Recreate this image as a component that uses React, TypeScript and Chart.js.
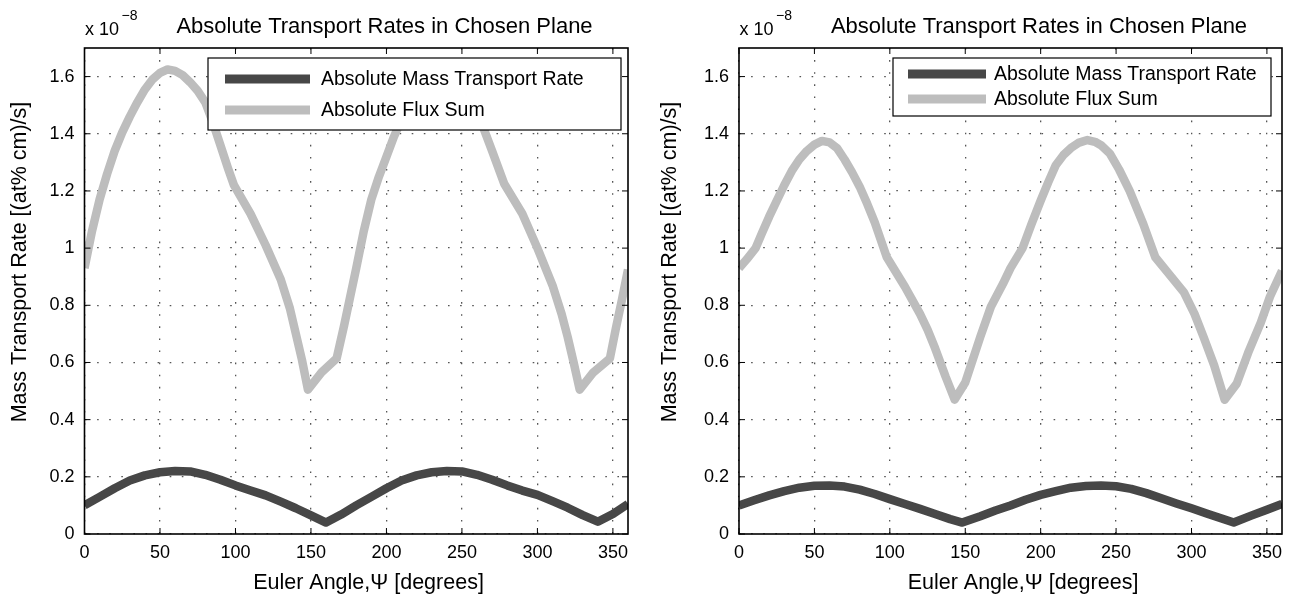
import React, { useEffect, useRef } from 'react';
import { Chart, registerables } from 'chart.js';

Chart.register(...registerables);

// ---------- data ----------
const xTicks = [0, 50, 100, 150, 200, 250, 300, 350];
const yTicks = [0, 0.2, 0.4, 0.6, 0.8, 1, 1.2, 1.4, 1.6];
const titleText = 'Absolute Transport Rates in Chosen Plane';
const xLabel = 'Euler Angle,\u03A8 [degrees]';
const yLabel = 'Mass Transport Rate [(at% cm)/s]';
const seriesNames = ['Absolute Mass Transport Rate', 'Absolute Flux Sum'];

// left panel
const leftMassAngles = [0, 10, 20, 30, 40, 50, 60, 70, 80, 90, 100, 110, 120, 130, 140, 150, 160, 170, 180,
  190, 200, 210, 220, 230, 240, 250, 260, 270, 280, 290, 300, 310, 320, 330, 340, 350, 360];
const leftMassValues = [0.10, 0.13, 0.16, 0.187, 0.205, 0.216, 0.22, 0.219, 0.207, 0.19, 0.17, 0.152, 0.135, 0.113, 0.09, 0.065, 0.04, 0.068, 0.10,
  0.13, 0.16, 0.187, 0.205, 0.216, 0.22, 0.219, 0.207, 0.19, 0.17, 0.152, 0.137, 0.115, 0.092, 0.066, 0.043, 0.07, 0.105];

const leftFluxAngles = [0, 5, 10, 15, 20, 25, 30, 35, 40, 45, 50, 55, 60, 65, 70, 75, 80, 85, 90, 95, 99,
  110, 120, 130, 136, 140, 144, 148, 157, 167, 172, 176, 180,
  185, 190, 195, 200, 205, 210, 220, 230, 235, 240, 250, 260, 265, 270, 278,
  290, 300, 310, 316, 320, 324, 328, 337, 348, 352, 356, 360];
const leftFluxValues = [0.93, 1.06, 1.17, 1.26, 1.34, 1.405, 1.46, 1.51, 1.555, 1.59, 1.613, 1.625, 1.62, 1.605, 1.58, 1.55, 1.51, 1.44, 1.36, 1.28, 1.22,
  1.12, 1.01, 0.89, 0.79, 0.70, 0.61, 0.505, 0.565, 0.614, 0.73, 0.83, 0.93,
  1.06, 1.17, 1.25, 1.32, 1.39, 1.45, 1.55, 1.61, 1.625, 1.615, 1.57, 1.48, 1.41, 1.34, 1.225,
  1.12, 1.0, 0.87, 0.77, 0.69, 0.60, 0.505, 0.565, 0.614, 0.72, 0.82, 0.925];

// right panel
const rightMassAngles = [0, 10, 20, 30, 40, 50, 60, 70, 80, 90, 100, 110, 120, 130, 140, 148, 160, 170, 180,
  190, 200, 210, 220, 230, 240, 250, 260, 270, 280, 290, 300, 310, 320, 328, 340, 350, 360];
const rightMassValues = [0.10, 0.118, 0.135, 0.15, 0.162, 0.169, 0.17, 0.166, 0.155, 0.14, 0.122, 0.105, 0.088, 0.07, 0.052, 0.04, 0.062, 0.082, 0.10,
  0.12, 0.137, 0.15, 0.162, 0.168, 0.17, 0.167, 0.158, 0.143, 0.125, 0.107, 0.09, 0.072, 0.054, 0.04, 0.065, 0.085, 0.105];

const rightFluxAngles = [0, 5, 11, 15, 20, 25, 30, 35, 40, 45, 50, 55, 60, 65, 70, 75, 80, 85, 90, 98,
  110, 120, 125, 130, 137, 143, 150, 160, 167, 175, 180,
  188, 194, 200, 205, 210, 215, 220, 225, 231, 236, 240, 246, 252, 259, 268, 276,
  285, 295, 302, 308, 315, 322, 330, 338, 346, 352, 360];
const rightFluxValues = [0.93, 0.96, 1.0, 1.05, 1.11, 1.165, 1.22, 1.27, 1.31, 1.34, 1.362, 1.375, 1.37, 1.35, 1.31, 1.265, 1.215, 1.155, 1.09, 0.968,
  0.865, 0.77, 0.715, 0.65, 0.55, 0.47, 0.53, 0.69, 0.795, 0.875, 0.93,
  1.0, 1.085, 1.166, 1.23, 1.29, 1.325, 1.35, 1.368, 1.378, 1.372, 1.36, 1.33, 1.275, 1.20, 1.085, 0.968,
  0.91, 0.845, 0.77, 0.689, 0.59, 0.47, 0.526, 0.64, 0.74, 0.83, 0.921];

// ---------- styles ----------
const FONT = '"Liberation Sans", Arial, Helvetica, sans-serif';
const MASS_COLOR = '#474747';
const FLUX_COLOR = '#bdbdbd';
const LINE_W = 8.5;

type PanelCfg = {
  left: number;
  width: number;
  axisWidth: number;
  padRight: number;
  mass: [number[], number[]];
  flux: [number[], number[]];
  legend: { x0: number; y0: number; x1: number; y1: number; s0: number; s1: number; tx: number; rows: number[] };
  yLabelX: number;
};

const panels: PanelCfg[] = [
  {
    left: 0,
    width: 645,
    axisWidth: 84.5,
    padRight: 17,
    mass: [leftMassAngles, leftMassValues],
    flux: [leftFluxAngles, leftFluxValues],
    legend: { x0: 208, y0: 58, x1: 621, y1: 130, s0: 225, s1: 310, tx: 321, rows: [79, 110] },
    yLabelX: 26,
  },
  {
    left: 645,
    width: 646,
    axisWidth: 94,
    padRight: 9,
    mass: [rightMassAngles, rightMassValues],
    flux: [rightFluxAngles, rightFluxValues],
    legend: { x0: 248, y0: 58, x1: 626, y1: 116, s0: 263, s1: 341, tx: 349, rows: [74, 99] },
    yLabelX: 31,
  },
];

function toPoints(a: number[], v: number[]) {
  return a.map((x, i) => ({ x, y: v[i] }));
}

function makePlugin(cfg: PanelCfg) {
  return {
    id: 'matlabDecor',
    afterDatasetsDraw(chart: any) {
      const { ctx, chartArea: a, scales } = chart;
      ctx.save();
      ctx.strokeStyle = '#000';
      ctx.lineWidth = 1;
      const line = (x1: number, y1: number, x2: number, y2: number) => {
        ctx.beginPath();
        ctx.moveTo(x1, y1);
        ctx.lineTo(x2, y2);
        ctx.stroke();
      };
      xTicks.forEach((v) => {
        const x = scales.x.getPixelForValue(v);
        line(x, a.bottom, x, a.bottom - 6);
        line(x, a.top, x, a.top + 6);
      });
      yTicks.forEach((v) => {
        const y = scales.y.getPixelForValue(v);
        line(a.left, y, a.left + 6, y);
        line(a.right, y, a.right - 6, y);
      });
      ctx.lineWidth = 1.6;
      ctx.strokeRect(a.left, a.top, a.right - a.left, a.bottom - a.top);
      ctx.restore();
    },
    afterDraw(chart: any) {
      const { ctx, chartArea: a } = chart;
      const L = cfg.legend;
      ctx.save();
      // legend
      ctx.fillStyle = '#fff';
      ctx.fillRect(L.x0, L.y0, L.x1 - L.x0, L.y1 - L.y0);
      ctx.strokeStyle = '#000';
      ctx.lineWidth = 1.2;
      ctx.strokeRect(L.x0, L.y0, L.x1 - L.x0, L.y1 - L.y0);
      const colors = [MASS_COLOR, FLUX_COLOR];
      ctx.font = `19.5px ${FONT}`;
      ctx.textBaseline = 'middle';
      ctx.textAlign = 'left';
      seriesNames.forEach((name, i) => {
        const y = L.rows[i];
        ctx.strokeStyle = colors[i];
        ctx.lineWidth = 9;
        ctx.lineCap = 'butt';
        ctx.beginPath();
        ctx.moveTo(L.s0, y);
        ctx.lineTo(L.s1, y);
        ctx.stroke();
        ctx.fillStyle = '#000';
        ctx.fillText(name, L.tx, y + 1);
      });
      // title
      ctx.fillStyle = '#000';
      ctx.textBaseline = 'alphabetic';
      ctx.textAlign = 'center';
      ctx.font = `22px ${FONT}`;
      ctx.fillText(titleText, a.left + 300, 33);
      // exponent
      ctx.textAlign = 'left';
      ctx.font = `18px ${FONT}`;
      ctx.fillText('x 10', a.left + 0.5, 35);
      ctx.font = `14px ${FONT}`;
      ctx.fillText('\u22128', a.left + 37, 20);
      // x label
      ctx.textAlign = 'center';
      ctx.font = `21.5px ${FONT}`;
      ctx.fillText(xLabel, a.left + 284, 589);
      // y label
      ctx.translate(cfg.yLabelX, 262);
      ctx.rotate(-Math.PI / 2);
      ctx.fillText(yLabel, 0, 0);
      ctx.restore();
    },
  };
}

function Panel({ cfg }: { cfg: PanelCfg }) {
  const ref = useRef<HTMLCanvasElement>(null);
  useEffect(() => {
    const canvas = ref.current!;
    const chart = new Chart(canvas, {
      type: 'line',
      data: {
        datasets: [
          {
            label: seriesNames[0],
            data: toPoints(cfg.mass[0], cfg.mass[1]),
            borderColor: MASS_COLOR,
            borderWidth: LINE_W,
            pointRadius: 0,
            tension: 0,
            borderJoinStyle: 'round',
            borderCapStyle: 'butt',
            clip: 0,
          } as any,
          {
            label: seriesNames[1],
            data: toPoints(cfg.flux[0], cfg.flux[1]),
            borderColor: FLUX_COLOR,
            borderWidth: LINE_W,
            pointRadius: 0,
            tension: 0,
            borderJoinStyle: 'round',
            borderCapStyle: 'butt',
            clip: 0,
          } as any,
        ],
      },
      options: {
        responsive: false,
        animation: false,
        devicePixelRatio: 1,
        parsing: false as any,
        layout: { padding: { left: 0, right: cfg.padRight, top: 48, bottom: 0 } },
        plugins: {
          legend: { display: false },
          tooltip: { enabled: false },
          title: { display: false },
        },
        scales: {
          x: {
            type: 'linear',
            min: 0,
            max: 360,
            afterBuildTicks: (s: any) => {
              s.ticks = xTicks.map((v) => ({ value: v }));
            },
            afterFit: (s: any) => {
              s.height = 63;
            },
            ticks: {
              autoSkip: false,
              maxRotation: 0,
              padding: 8,
              color: '#000',
              font: { family: FONT, size: 18 },
              callback: (v: any) => String(v),
            },
            grid: { color: '#555', lineWidth: 1.3, drawTicks: false },
            border: { display: false, dash: [1.6, 10.5] },
          },
          y: {
            type: 'linear',
            min: 0,
            max: 1.7,
            afterBuildTicks: (s: any) => {
              s.ticks = yTicks.map((v) => ({ value: v }));
            },
            afterFit: (s: any) => {
              s.width = cfg.axisWidth;
            },
            ticks: {
              autoSkip: false,
              padding: 10,
              color: '#000',
              font: { family: FONT, size: 18 },
              callback: (v: any) => String(Math.round(v * 10) / 10),
            },
            grid: { color: '#555', lineWidth: 1.3, drawTicks: false },
            border: { display: false, dash: [1.6, 10.5] },
          },
        },
      } as any,
      plugins: [makePlugin(cfg)],
    });
    return () => chart.destroy();
  }, [cfg]);
  return (
    <canvas
      ref={ref}
      width={cfg.width}
      height={597}
      style={{ position: 'absolute', left: cfg.left, top: 0, width: cfg.width, height: 597, display: 'block' }}
    />
  );
}

export default function App() {
  return (
    <div style={{ position: 'fixed', left: 0, top: 0, width: 1291, height: 597, background: '#fff', overflow: 'hidden' }}>
      {panels.map((p, i) => (
        <Panel key={i} cfg={p} />
      ))}
    </div>
  );
}
